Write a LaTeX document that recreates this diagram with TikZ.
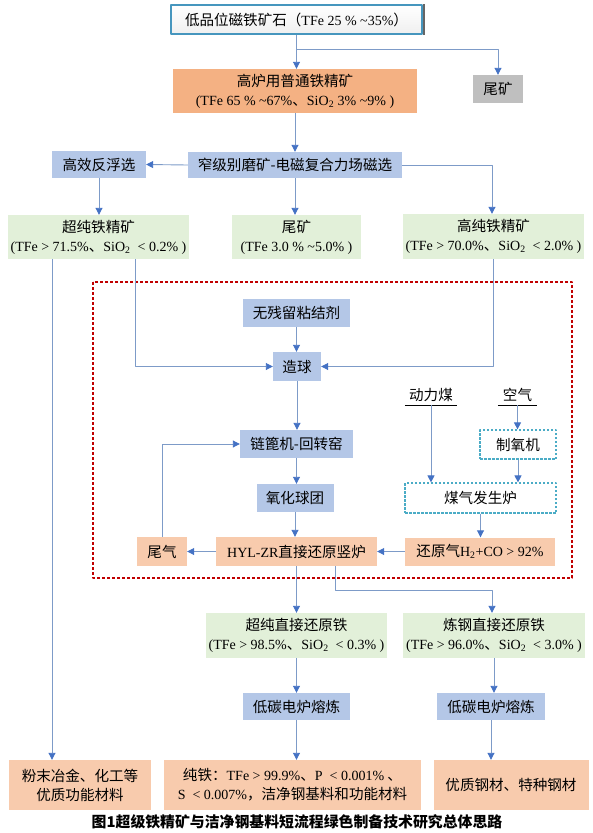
\documentclass[tikz,border=0pt]{standalone}
\usepackage{fontspec}
\setmainfont{Liberation Serif}
\newfontfamily\zhfont[Scale=1.04]{Noto Sans CJK SC}
\usetikzlibrary{arrows.meta}

\definecolor{lineblue}{RGB}{125,155,200}
\definecolor{tipblue}{RGB}{68,114,196}
\definecolor{boxblue}{RGB}{180,199,231}
\definecolor{boxgreen}{RGB}{226,240,217}
\definecolor{boxorange}{RGB}{248,203,173}
\definecolor{deeporange}{RGB}{244,177,131}
\definecolor{boxgray}{RGB}{191,191,191}
\definecolor{dashred}{RGB}{192,0,0}
\definecolor{dashcyan}{RGB}{75,172,198}
\definecolor{topedge}{RGB}{70,150,190}

\newcommand{\en}[1]{{\rmfamily #1}}

\begin{document}
\begin{tikzpicture}[x=1pt, y=-1pt, font=\zhfont\fontsize{14}{19}\selectfont, line join=round,
		>={Triangle[width=7pt,length=7pt,color=tipblue]},
		every node/.style={inner sep=0pt, align=center},
		wh/.style 2 args={minimum width=#1pt, minimum height=#2pt},
		blu/.style={fill=boxblue},
		grn/.style={fill=boxgreen},
		org/.style={fill=boxorange},
		cyanbox/.style={draw=dashcyan, fill=white, line width=1.2pt, dash pattern=on 2.5pt off 1.5pt},
		link/.style={draw=lineblue, line width=0.9pt}]
	\useasboundingbox (0,0) rectangle (593,833);
	
	% frame of the pellet / reduction stage
	\draw[dashred, line width=1.2pt, dash pattern=on 3pt off 2pt] (93,282) rectangle (572,578);
	
	% beneficiation
	\node[wh={251}{29}, draw=topedge, line width=1.2pt, top color=white, bottom color=gray!12] (top) at (296.5,19.5) {低品位磁铁矿石（\en{TFe 25 \% \textasciitilde35\%}）};
	\draw[black!60, line width=2pt] ([xshift=1.5pt]top.north east) -- ([xshift=1.5pt]top.south east);
	\node[wh={244}{44}, fill=deeporange] (gaolu) at (295,91) {高炉用普通铁精矿\\\en{(TFe 65 \% \textasciitilde67\%}、\en{SiO\textsubscript{2} 3\% \textasciitilde9\% )}};
	\node[wh={50}{28}, fill=boxgray] (tail1) at (498,89) {尾矿};
	\node[wh={214}{26}, blu] (cixuan) at (295,165) {窄级别磨矿-电磁复合力场磁选};
	\node[wh={94}{27}, blu] (fanfu) at (99,164.5) {高效反浮选};
	\node[wh={181}{44}, grn] (chaochun) at (98.5,237) {超纯铁精矿\\\en{(TFe > 71.5\%}、\en{SiO\textsubscript{2} \ < 0.2\% )}};
	\node[wh={129}{44}, grn] (tail2) at (296.5,237) {尾矿\\\en{(TFe 3.0 \% \textasciitilde5.0\% )}};
	\node[wh={181}{45}, grn] (gaochun) at (493.5,236.5) {高纯铁精矿\\\en{(TFe > 70.0\%}、\en{SiO\textsubscript{2} \ < 2.0\% )}};
	
	% pelletizing and direct reduction
	\node[wh={107}{28}, blu] (binder) at (296.5,313) {无残留粘结剂};
	\node[wh={48}{29}, blu] (zaoqiu) at (297,366.5) {造球};
	\node[wh={52}{20}] (coal) at (431,395) {动力煤};
	\node[wh={39}{20}] (air) at (517.5,395) {空气};
	\draw[line width=1.3pt] (coal.south west) -- (coal.south east);
	\draw[line width=1.3pt] (air.south west) -- (air.south east);
	\node[wh={113}{28}, blu] (kiln) at (296.5,444) {链篦机-回转窑};
	\node[wh={76}{29}, cyanbox] (oxygen) at (518,444.5) {制氧机};
	\node[wh={77}{28}, blu] (pellet) at (295,498) {氧化球团};
	\node[wh={151}{30}, cyanbox] (gasifier) at (480.5,498) {煤气发生炉};
	\node[wh={50}{29}, org] (offgas) at (162,551.5) {尾气};
	\node[wh={161}{29}, org] (hyl) at (296.5,551.5) {\en{HYL-ZR}直接还原竖炉};
	\node[wh={150}{28}, org] (redgas) at (480,551.5) {还原气\en{H\textsubscript{2}+CO > 92\%}};
	
	% products
	\node[wh={181}{45}, grn] (dri1) at (296.5,635.5) {超纯直接还原铁\\\en{(TFe > 98.5\%}、\en{SiO\textsubscript{2} \ < 0.3\% )}};
	\node[wh={182}{45}, grn] (dri2) at (494,635.5) {炼钢直接还原铁\\\en{(TFe > 96.0\%}、\en{SiO\textsubscript{2} \ < 3.0\% )}};
	\node[wh={107}{27}, blu] (eaf1) at (296.5,706.5) {低碳电炉熔炼};
	\node[wh={108}{27}, blu] (eaf2) at (491,706.5) {低碳电炉熔炼};
	\node[wh={142}{50}, org] (powder) at (80,785) {粉末冶金、化工等\\优质功能材料};
	\node[wh={257}{50}, org] (pure) at (292.5,785) {纯铁：\en{TFe > 99.9\%}、\en{P \ < 0.001\%} 、\\\en{S \ < 0.007\%}，洁净钢基料和功能材料};
	\node[wh={155}{50}, org] (steel) at (511,785) {优质钢材、特种钢材};
	\node[font=\zhfont\bfseries\fontsize{14.3}{16}\selectfont] (caption) at (297,822) {图1超级铁精矿与洁净钢基料短流程绿色制备技术研究总体思路};
	
	% straight downward links
	\foreach \a/\b in {top/gaolu, gaolu/cixuan, fanfu/chaochun, cixuan/tail2, binder/zaoqiu, zaoqiu/kiln,
		kiln/pellet, pellet/hyl, coal/gasifier, air/oxygen, oxygen/gasifier, gasifier/redgas,
		hyl/dri1, dri1/eaf1, dri2/eaf2, eaf1/pure, eaf2/steel}
		\draw[link, ->] (\a.south) -- (\a.south |- \b.north);
	
	% branches and side links
	\coordinate (split) at ([yshift=-15pt]top.south);
	\draw[link, ->] (split) -| (tail1.north);
	\draw[link, ->] (cixuan.west) -- (fanfu.east);
	\draw[link, ->] (cixuan.east) -| ([xshift=-1.5pt]gaochun.north);
	\draw[link, ->] ([xshift=36.5pt]chaochun.south) |- (zaoqiu.west);
	\draw[link, ->] (gaochun.south) |- (zaoqiu.east);
	\draw[link, ->] ([xshift=-46.5pt]chaochun.south) -- ([xshift=-46.5pt]chaochun.south |- powder.north);
	\draw[link, ->] (hyl.west) -- (offgas.east);
	\draw[link, ->] (offgas.north) |- (kiln.west);
	\draw[link, ->] (redgas.west) -- (hyl.east);
	\draw[link, ->] ([xshift=38.5pt]hyl.south) -- ++(0,24.5) -| ([xshift=-2pt]dri2.north);
\end{tikzpicture}
\end{document}
